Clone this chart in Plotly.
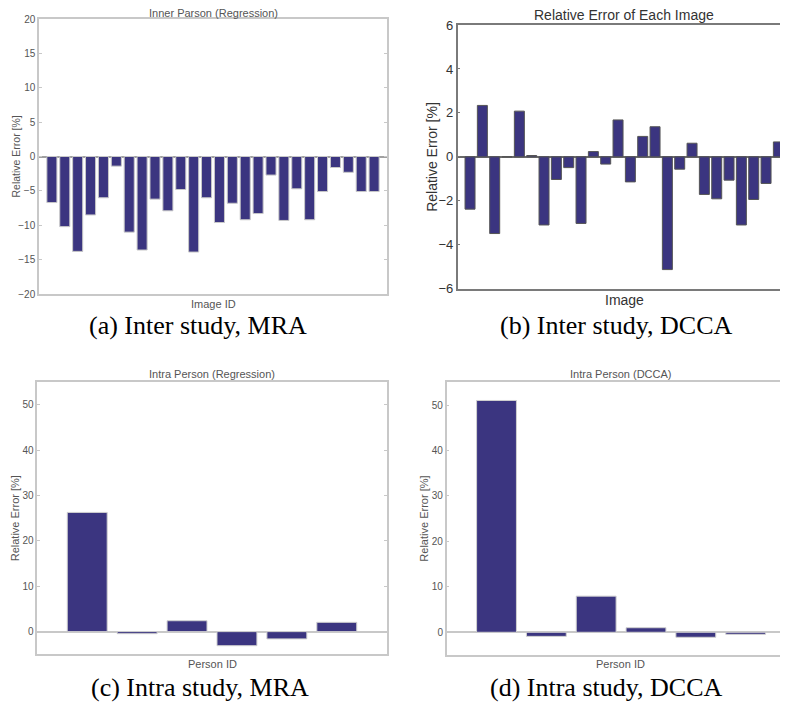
import plotly.graph_objects as go

# The page body has an 8px default margin, so the figure is sized to fill the rest of the window.
OFF = 8
W, H = 788 - OFF, 702 - OFF

# ---------------- data ----------------
a_ids = list(range(1, 27))
a_vals = [-6.7, -10.2, -13.8, -8.5, -6.0, -1.4, -11.0, -13.6, -6.2, -7.9, -4.8, -13.9, -6.0,
          -9.6, -6.8, -9.2, -8.3, -2.7, -9.3, -4.7, -9.2, -5.1, -1.6, -2.3, -5.1, -5.1]

b_ids = list(range(1, 27))
b_vals = [-2.38, 2.34, -3.49, 0.0, 2.08, 0.06, -3.10, -1.03, -0.49, -3.03, 0.24, -0.33, 1.68,
          -1.14, 0.93, 1.37, -5.13, -0.56, 0.62, -1.71, -1.91, -1.06, -3.10, -1.94, -1.21, 0.68]

c_ids = list(range(1, 7))
c_vals = [26.3, -0.45, 2.4, -3.1, -1.6, 2.05]

d_ids = list(range(1, 7))
d_vals = [51.0, -0.9, 7.95, 1.0, -1.1, -0.45]

titles = ["Inner Parson (Regression)", "Relative Error of Each Image",
          "Intra Person (Regression)", "Intra Person (DCCA)"]
xtitles = ["Image ID", "Image", "Person ID", "Person ID"]
ytitle = "Relative Error [%]"
captions = ["(a) Inter study, MRA", "(b) Inter study, DCCA",
            "(c) Intra study, MRA", "(d) Intra study, DCCA"]

a_ticks = [-20, -15, -10, -5, 0, 5, 10, 15, 20]
b_ticks = [-6, -4, -2, 0, 2, 4, 6]
cd_ticks = [0, 10, 20, 30, 40, 50]

BAR = "#3b3580"


def px(x):
    return (x - OFF) / W


def py(y):
    return 1 - (y - OFF) / H


fig = go.Figure()

panels = [
    dict(ids=a_ids, vals=a_vals, box=(39, 387, 19, 294), xr=[0, 27], yr=[-20, 20], ticks=a_ticks,
         bw=0.78, fs=10, tfs=11, yfs=10.5, line="#c8c8c8", zero="#a0a0a0", bl="#c8c8c8", mirror_y=True,
         tcol="#555555", ytx=15, xty=304, tty=13),
    dict(ids=b_ids, vals=b_vals, box=(457.7, 788, 25, 288.7), xr=[0, 26.78], yr=[-6, 6], ticks=b_ticks,
         bw=0.81, fs=13, tfs=14, yfs=14, line="#7a7a7a", zero="#6a6a6a", bl="#555555", mirror_y=False,
         tcol="#333333", ytx=432, xty=300, tty=15),
    dict(ids=c_ids, vals=c_vals, box=(37.3, 386.7, 382.3, 654.3), xr=[0, 7], yr=[-5, 55], ticks=cd_ticks,
         bw=0.8, fs=10, tfs=11, yfs=11, line="#c8c8c8", zero="#c8c8c8", bl="#d0d0d0", mirror_y=True,
         tcol="#555555", ytx=15, xty=664, tty=374),
    dict(ids=d_ids, vals=d_vals, box=(446.7, 788, 382.3, 655), xr=[0, 6.85], yr=[-5, 55], ticks=cd_ticks,
         bw=0.8, fs=10, tfs=11, yfs=11, line="#c8c8c8", zero="#c8c8c8", bl="#d0d0d0", mirror_y=False,
         tcol="#555555", ytx=424, xty=664, tty=374),
]

layout = dict(width=W, height=H, margin=dict(l=0, r=0, t=0, b=0, autoexpand=False),
              paper_bgcolor="white", plot_bgcolor="white", showlegend=False,
              font=dict(family="Liberation Sans, Arial"))
annotations = []

for i, p in enumerate(panels):
    n = "" if i == 0 else str(i + 1)
    x0, x1, yt, yb = p["box"]
    fig.add_trace(go.Bar(x=p["ids"], y=p["vals"], width=p["bw"], xaxis="x" + n, yaxis="y" + n,
                         marker=dict(color=BAR, line=dict(color=p["bl"], width=1))))
    layout["xaxis" + n] = dict(domain=[px(x0), min(1.0, px(x1))], range=p["xr"], anchor="y" + n,
                               showticklabels=False, ticks="", showgrid=False, zeroline=False,
                               showline=True, linecolor=p["line"], linewidth=1.5, mirror=True,
                               automargin=False)
    layout["yaxis" + n] = dict(domain=[py(yb), py(yt)], range=p["yr"], anchor="x" + n,
                               tickvals=p["ticks"], ticks="inside", ticklen=3, tickcolor=p["line"],
                               showgrid=False, zeroline=True, zerolinecolor=p["zero"], zerolinewidth=1.5,
                               showline=True, linecolor=p["line"], linewidth=1.5,
                               mirror=("ticks" if p["mirror_y"] else False), automargin=False,
                               tickfont=dict(size=p["fs"], color=p["tcol"]))
    xc = (x0 + x1) / 2
    if i == 1:
        xc = (x0 + 790.7) / 2
    if i == 3:
        xc = (x0 + 795) / 2
    annotations.append(dict(text=titles[i], x=px(xc), y=py(p["tty"]), xref="paper", yref="paper",
                            showarrow=False, xanchor="center", yanchor="middle",
                            font=dict(size=p["tfs"], color=p["tcol"])))
    annotations.append(dict(text=xtitles[i], x=px(xc), y=py(p["xty"]), xref="paper", yref="paper",
                            showarrow=False, xanchor="center", yanchor="middle",
                            font=dict(size=p["tfs"], color=p["tcol"])))
    annotations.append(dict(text=ytitle, x=px(p["ytx"]), y=py((yt + yb) / 2), xref="paper", yref="paper",
                            showarrow=False, textangle=-90, xanchor="center", yanchor="middle",
                            font=dict(size=p["yfs"], color=p["tcol"])))

cap_pos = [(198, 325), (616, 325), (200, 687), (606, 687)]
for c, (cx, cy) in zip(captions, cap_pos):
    annotations.append(dict(text=c, x=px(cx), y=py(cy), xref="paper", yref="paper", showarrow=False,
                            xanchor="center", yanchor="middle",
                            font=dict(size=26, color="black", family="Liberation Serif, Times New Roman")))

layout["annotations"] = annotations
fig.update_layout(**layout)
fig.write_html("out.html")
